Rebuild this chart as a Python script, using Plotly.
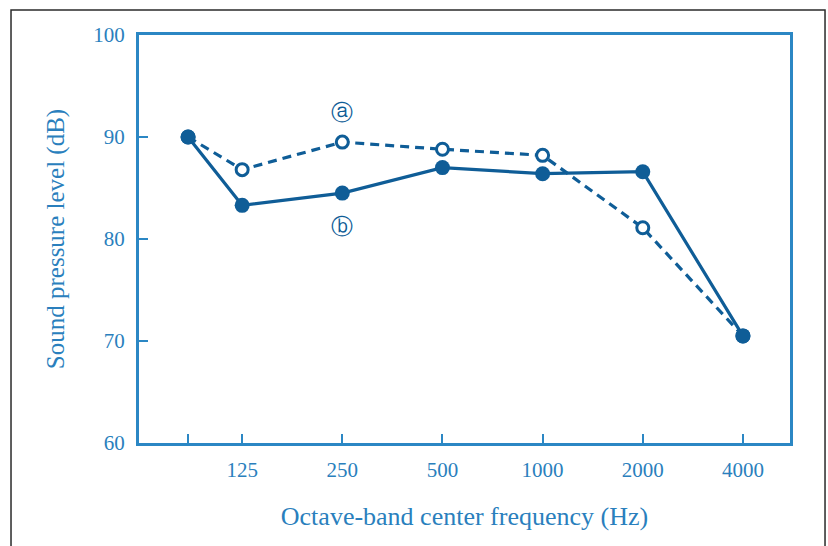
import plotly.graph_objects as go

# Data
band_labels = ["", "125", "250", "500", "1000", "2000", "4000"]
band_pos = [0.46, 1, 2, 3, 4, 5, 6]
series_a = [90.0, 86.8, 89.5, 88.8, 88.2, 81.1, 70.5]   # dashed, open circles
series_b = [90.0, 83.3, 84.5, 87.0, 86.4, 86.6, 70.5]   # solid, filled circles
y_ticks = [60, 70, 80, 90, 100]

AX = "#2b87c4"
DATA = "#0f5d97"
TXT = "#2a7fbd"
FONT = "Liberation Serif"

fig = go.Figure()
fig.add_trace(go.Scatter(
    x=band_pos, y=series_a, mode="lines+markers",
    line=dict(color=DATA, width=3.2, dash="9px,6px"),
    marker=dict(symbol="circle", size=12, color="white",
                line=dict(color=DATA, width=3)),
    showlegend=False, cliponaxis=False))
fig.add_trace(go.Scatter(
    x=band_pos, y=series_b, mode="lines+markers",
    line=dict(color=DATA, width=3.2),
    marker=dict(symbol="circle", size=15, color=DATA,
                line=dict(color=DATA, width=0)),
    showlegend=False, cliponaxis=False))

fig.add_annotation(x=band_pos[2], y=92.4, text="ⓐ", showarrow=False,
                   font=dict(family="DejaVu Sans", size=22, color=DATA))
fig.add_annotation(x=band_pos[2], y=81.2, text="ⓑ", showarrow=False,
                   font=dict(family="DejaVu Sans", size=22, color=DATA))

fig.add_shape(type="rect", xref="paper", yref="paper",
              x0=-0.1966, x1=1.0538, y0=-0.3, y1=1.0613,
              line=dict(color="#2a2a2a", width=1.5), layer="below")

fig.update_layout(
    width=828, height=546,
    margin=dict(l=139, r=38, t=35, b=103),
    paper_bgcolor="white", plot_bgcolor="white",
    font=dict(family=FONT, color=TXT, size=21),
    xaxis=dict(
        range=[-0.03, 6.47], tickmode="array",
        tickvals=band_pos, ticktext=band_labels,
        showgrid=False, zeroline=False,
        showline=True, linecolor=AX, linewidth=3, mirror=True,
        ticks="inside", ticklen=9, tickwidth=2, tickcolor=AX,
        ticklabelstandoff=6,
        tickfont=dict(family=FONT, size=21, color=TXT),
        title=dict(text="Octave-band center frequency (Hz)",
                   font=dict(family=FONT, size=26, color=TXT), standoff=26),
    ),
    yaxis=dict(
        range=[60, 100], tickmode="array", tickvals=y_ticks,
        showgrid=False, zeroline=False,
        showline=True, linecolor=AX, linewidth=3, mirror=True,
        ticks="inside", ticklen=9, tickwidth=2, tickcolor=AX,
        ticklabelstandoff=7,
        tickfont=dict(family=FONT, size=21, color=TXT),
        title=dict(text="Sound pressure level (dB)",
                   font=dict(family=FONT, size=25, color=TXT), standoff=22),
    ),
)

fig.write_html("out.html")
